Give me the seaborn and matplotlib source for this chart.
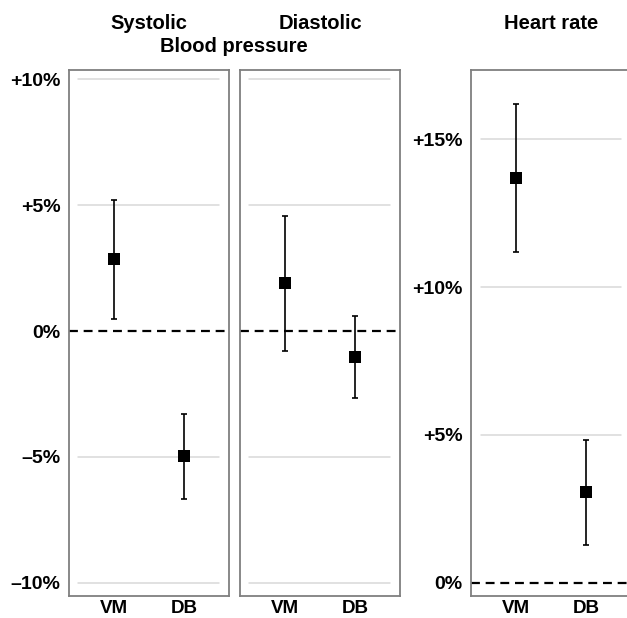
import numpy as np
import pandas as pd
import matplotlib.pyplot as plt
import seaborn as sns
from matplotlib.ticker import FuncFormatter

# Data (percent change)
groups = ["VM", "DB"]
systolic_mean = [2.86, -4.96]
systolic_low = [0.48, -6.67]
systolic_high = [5.2, -3.3]
diastolic_mean = [1.9, -1.03]
diastolic_low = [-0.78, -2.65]
diastolic_high = [4.58, 0.6]
hr_mean = [13.7, 3.07]
hr_low = [11.2, 1.27]
hr_high = [16.2, 4.82]

panels = [
    ("Systolic", systolic_mean, systolic_low, systolic_high),
    ("Diastolic", diastolic_mean, diastolic_low, diastolic_high),
    ("Heart rate", hr_mean, hr_low, hr_high),
]

sns.set_style("white")
plt.rcParams["font.family"] = ["Liberation Sans", "DejaVu Sans"]
plt.rcParams["font.weight"] = "bold"
plt.rcParams["text.color"] = "black"
plt.rcParams["xtick.color"] = "black"
plt.rcParams["ytick.color"] = "black"


def pct(v, pos):
    if v > 0:
        return f"+{v:g}%"
    if v < 0:
        return f"\u2013{abs(v):g}%"
    return "0%"


fig = plt.figure(figsize=(6.27, 6.18), dpi=100)
bottom, height = 0.0356, 0.851
lefts = [0.110, 0.3828, 0.7512]
width = 0.2552

axes = [fig.add_axes([l, bottom, width, height]) for l in lefts]

for ax, (name, mean, low, high) in zip(axes, panels):
    df = pd.DataFrame({"group": groups, "mean": mean, "low": low, "high": high})
    err = np.array([df["mean"] - df["low"], df["high"] - df["mean"]])
    ax.errorbar(df["group"], df["mean"], yerr=err, fmt="none", ecolor="black",
                elinewidth=1.2, capsize=2, capthick=1.2, zorder=3)
    sns.scatterplot(data=df, x="group", y="mean", marker="s", s=70, color="black",
                    edgecolor="black", linewidth=0, ax=ax, zorder=4)
    ax.set_xlim(-0.64, 1.64)
    ax.set_xlabel("")
    ax.set_ylabel("")
    ax.axhline(0, color="black", lw=1.6, ls=(0, (4, 2.6)), zorder=2)
    for sp in ax.spines.values():
        sp.set_color("#7f7f7f")
        sp.set_linewidth(1.3)
    ax.tick_params(axis="y", length=0, labelsize=14, pad=6)
    ax.tick_params(axis="x", length=0, labelsize=13.5, pad=3)
    ax.text(0.5, 1.089, name, transform=ax.transAxes, ha="center", va="center",
            fontsize=14.5, fontweight="bold")

for ax in axes[:2]:
    ax.set_ylim(-10.52, 10.36)
    ax.set_yticks([-10, -5, 0, 5, 10])
    for t in [-10, -5, 5, 10]:
        ax.axhline(t, xmin=0.056, xmax=0.935, color="#d9d9d9", lw=1.1, zorder=1)

axes[2].set_ylim(-0.44, 17.33)
axes[2].set_yticks([0, 5, 10, 15])
for t in [5, 10, 15]:
    axes[2].axhline(t, xmin=0.0625, xmax=0.94, color="#d9d9d9", lw=1.1, zorder=1)

axes[0].yaxis.set_major_formatter(FuncFormatter(pct))
axes[2].yaxis.set_major_formatter(FuncFormatter(pct))
axes[1].set_yticklabels([])

fig.text(234 / 627, 1 - 46 / 618, "Blood pressure", ha="center", va="center",
         fontsize=14.5, fontweight="bold")

fig.savefig("out.png", dpi=100)
